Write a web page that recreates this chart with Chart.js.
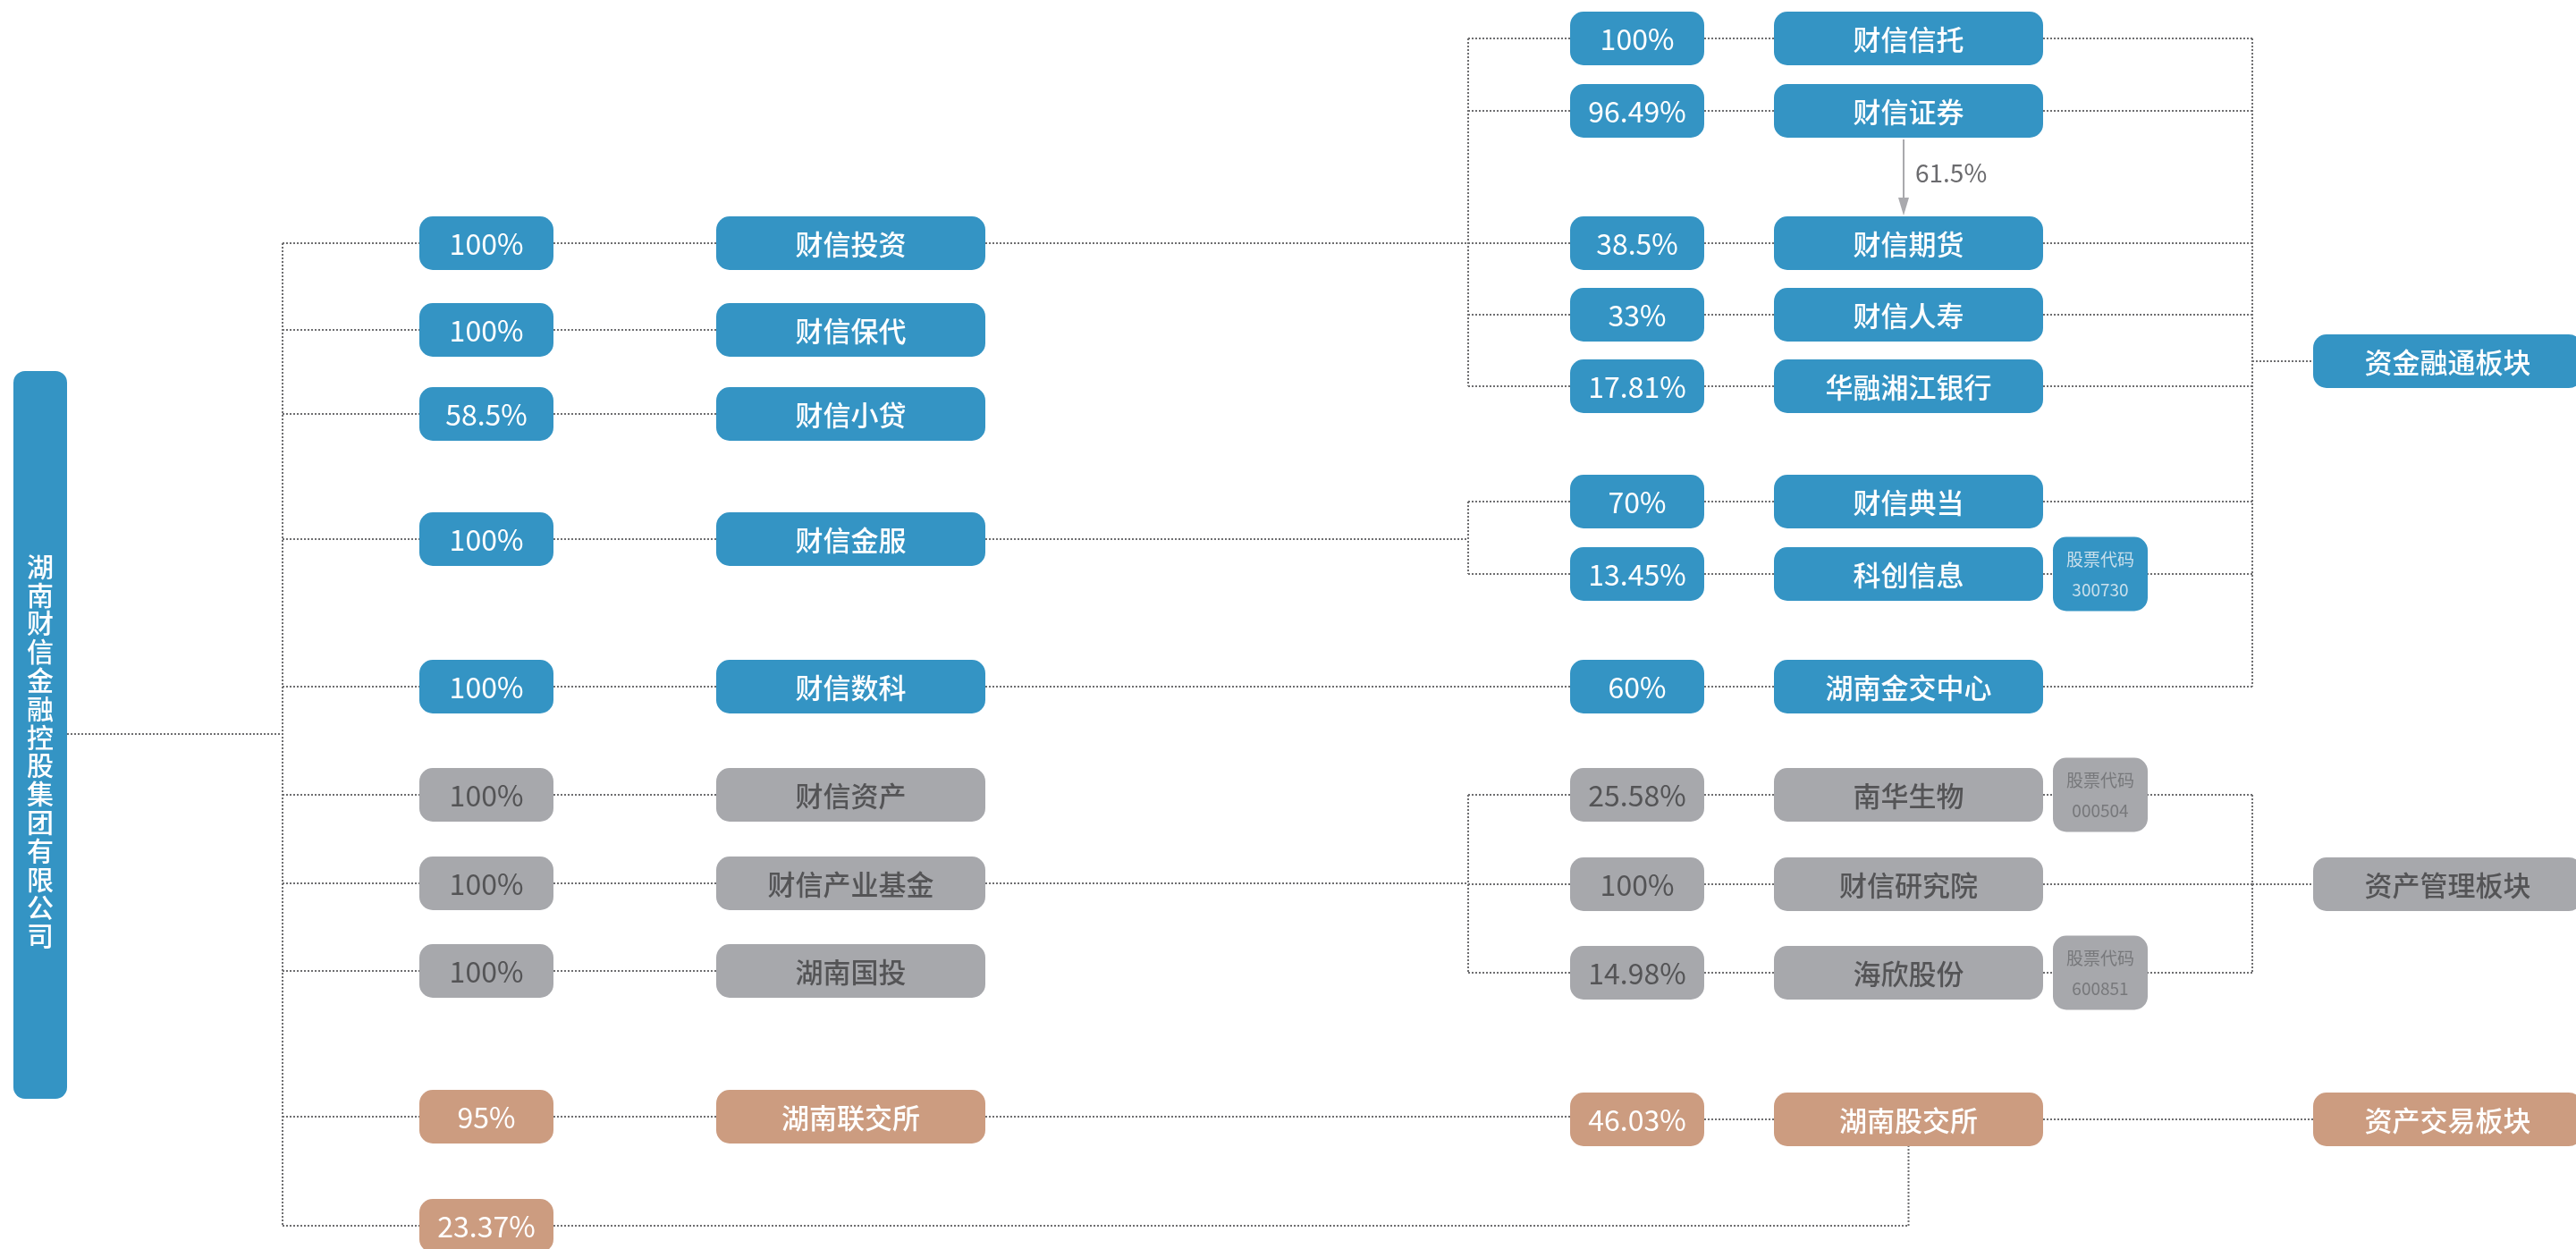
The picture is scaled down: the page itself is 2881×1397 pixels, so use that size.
<!DOCTYPE html>
<html>
<head>
<meta charset="utf-8">
<script src="https://cdn.jsdelivr.net/npm/chart.js@4/dist/chart.umd.min.js"></script>
<style>
html,body{margin:0;padding:0;background:#fff;overflow:hidden;}
#wrap{width:2881px;height:1397px;position:relative;}
</style>
</head>
<body>
<div id="wrap"><canvas id="c"></canvas></div>
<script>
// ---------------- DATA ----------------
const rootName = '湖南财信金融控股集团有限公司';
const level1Names  = ['财信投资','财信保代','财信小贷','财信金服','财信数科','财信资产','财信产业基金','湖南国投','湖南联交所'];
const level1Shares = ['100%','100%','58.5%','100%','100%','100%','100%','100%','95%'];
const level1Sector = [0,0,0,0,0,1,1,1,2];
const level2Names  = ['财信信托','财信证券','财信期货','财信人寿','华融湘江银行','财信典当','科创信息','湖南金交中心','南华生物','财信研究院','海欣股份','湖南股交所'];
const level2Shares = ['100%','96.49%','38.5%','33%','17.81%','70%','13.45%','60%','25.58%','100%','14.98%','46.03%'];
const level2Parent = [0,0,0,0,0,3,3,4,6,6,6,8];
const level2Sector = [0,0,0,0,0,0,0,0,1,1,1,2];
const level2Codes  = ['','','','','','','300730','','000504','','600851',''];
const codeLabel = '股票代码';
const sectorNames = ['资金融通板块','资产管理板块','资产交易板块'];
const crossHolding = {from:1, to:2, share:'61.5%'};      // 财信证券 -> 财信期货
const directHolding = {to:11, share:'23.37%'};          // 集团 -> 湖南股交所

// ---------------- LAYOUT (positions in reference units) ----------------
const layout = {
  rootX:45, rootW:60, rootTop:415, rootBottom:1229, rootLineY:821, rootTextY:840,
  trunkX:316,
  l1PctX:544, l1NameX:951.5, l1Y:[272,369,463,603,768,889,988,1086,1249], directY:1371,
  lBrX:1642, rBrX:2519,
  l2PctX:1831, l2NameX:2134.5, l2Y:[43,124,272,352,432,561,642,768,889,989,1088,1252],
  stockX:2349, stockW:106, stockH:83,
  sectorX:2737.5, sectorY:[404,989,1252],
  pctW:150, nameW:301, boxH:60, radius:15,
  arrowX:2129, arrowTop:156, arrowBottom:241
};
const fills = ['#3494c4','#a7a8ac','#cc9c80'];
const textColors = ['#ffffff','#545456','#ffffff'];
const codeColors = ['#c9dfeb','#77787b'];
const FONT = '"Noto Sans CJK SC","Noto Sans",sans-serif';

// points for every node, so the scales define positions
const pts = [];
layout.l1Y.forEach(y=>{pts.push({x:layout.l1PctX,y});pts.push({x:layout.l1NameX,y});});
layout.l2Y.forEach(y=>{pts.push({x:layout.l2PctX,y});pts.push({x:layout.l2NameX,y});});

const orgPlugin = {
  id:'org',
  afterDraw(chart){
    const ctx = chart.ctx, sx = chart.scales.x, sy = chart.scales.y;
    const X = v => sx.getPixelForValue(v), Y = v => sy.getPixelForValue(v);
    const L = layout;
    ctx.save();
    // dotted connectors
    ctx.strokeStyle = '#6e6e70';
    ctx.lineWidth = 2;
    ctx.setLineDash([2,2]);
    const line = (x1,y1,x2,y2)=>{ctx.beginPath();ctx.moveTo(X(x1),Y(y1));ctx.lineTo(X(x2),Y(y2));ctx.stroke();};
    // root
    line(L.rootX+L.rootW/2, L.rootLineY, L.trunkX, L.rootLineY);
    line(L.trunkX, L.l1Y[0], L.trunkX, L.directY);
    L.l1Y.forEach(y=>{
      line(L.trunkX, y, L.l1PctX-L.pctW/2, y);
      line(L.l1PctX+L.pctW/2, y, L.l1NameX-L.nameW/2, y);
    });
    line(L.trunkX, L.directY, L.l1PctX-L.pctW/2, L.directY);
    // level1 -> level2
    level1Names.forEach((n,i)=>{
      const kids = level2Parent.map((p,k)=>p===i?k:-1).filter(k=>k>=0);
      if(!kids.length) return;
      const y = L.l1Y[i];
      if(kids.length===1){
        line(L.l1NameX+L.nameW/2, y, L.l2PctX-L.pctW/2, y);
      } else {
        line(L.l1NameX+L.nameW/2, y, L.lBrX, y);
        const ys = kids.map(k=>L.l2Y[k]);
        line(L.lBrX, Math.min(...ys), L.lBrX, Math.max(...ys));
        kids.forEach(k=>line(L.lBrX, L.l2Y[k], L.l2PctX-L.pctW/2, L.l2Y[k]));
      }
    });
    level2Names.forEach((n,k)=>line(L.l2PctX+L.pctW/2, L.l2Y[k], L.l2NameX-L.nameW/2, L.l2Y[k]));
    // level2 -> sectors
    sectorNames.forEach((s,j)=>{
      const kids = level2Sector.map((p,k)=>p===j?k:-1).filter(k=>k>=0);
      const sy0 = L.sectorY[j];
      if(kids.length===1){
        line(L.l2NameX+L.nameW/2, sy0, L.sectorX-L.nameW/2, sy0);
      } else {
        const ys = kids.map(k=>L.l2Y[k]);
        kids.forEach(k=>line(L.l2NameX+L.nameW/2, L.l2Y[k], L.rBrX, L.l2Y[k]));
        line(L.rBrX, Math.min(...ys), L.rBrX, Math.max(...ys));
        line(L.rBrX, sy0, L.sectorX-L.nameW/2, sy0);
      }
    });
    // direct holding
    const dx = L.l2NameX;
    line(L.l1PctX+L.pctW/2, L.directY, dx, L.directY);
    line(dx, L.directY, dx, L.l2Y[directHolding.to]+L.boxH/2);
    ctx.setLineDash([]);

    // boxes
    const rrect = (cx,cy,w,h,r)=>{
      const x0=X(cx-w/2), x1=X(cx+w/2), y0=Y(cy-h/2), y1=Y(cy+h/2);
      ctx.beginPath();
      ctx.moveTo(x0+r,y0);ctx.lineTo(x1-r,y0);ctx.arcTo(x1,y0,x1,y0+r,r);
      ctx.lineTo(x1,y1-r);ctx.arcTo(x1,y1,x1-r,y1,r);
      ctx.lineTo(x0+r,y1);ctx.arcTo(x0,y1,x0,y1-r,r);
      ctx.lineTo(x0,y0+r);ctx.arcTo(x0,y0,x0+r,y0,r);
      ctx.closePath();
    };
    const box = (cx,cy,w,h,sec,text,size,weight)=>{
      rrect(cx,cy,w,h,L.radius);
      ctx.fillStyle = fills[sec]; ctx.fill();
      ctx.fillStyle = textColors[sec];
      ctx.font = (weight||'400')+' '+size+'px '+FONT;
      ctx.textAlign='center'; ctx.textBaseline='middle';
      ctx.fillText(text, X(cx), Y(cy)+1);
    };
    // root
    const rc = (L.rootTop+L.rootBottom)/2;
    rrect(L.rootX, rc, L.rootW, L.rootBottom-L.rootTop, 13);
    ctx.fillStyle = fills[0]; ctx.fill();
    ctx.fillStyle = '#fff'; ctx.font = '500 30px '+FONT;
    ctx.textAlign='center'; ctx.textBaseline='middle';
    const chars = Array.from(rootName), pitch = 31.8;
    chars.forEach((c,i)=>ctx.fillText(c, X(L.rootX), Y(L.rootTextY + (i-(chars.length-1)/2)*pitch)));
    // level1
    level1Names.forEach((n,i)=>{
      const sec = level1Sector[i], y = L.l1Y[i];
      box(L.l1PctX, y, L.pctW, L.boxH, sec, level1Shares[i], 32, '400');
      box(L.l1NameX, y, L.nameW, L.boxH, sec, n, 31, '500');
    });
    box(L.l1PctX, L.directY, L.pctW, L.boxH, 2, directHolding.share, 32, '400');
    // level2
    level2Names.forEach((n,k)=>{
      const sec = level2Sector[k], y = L.l2Y[k];
      box(L.l2PctX, y, L.pctW, L.boxH, sec, level2Shares[k], 32, '400');
      box(L.l2NameX, y, L.nameW, L.boxH, sec, n, 31, '500');
      if(level2Codes[k]){
        rrect(L.stockX, y, L.stockW, L.stockH, 15);
        ctx.fillStyle = fills[sec]; ctx.fill();
        ctx.fillStyle = codeColors[sec]; ctx.font = '400 19px '+FONT;
        ctx.textAlign='center'; ctx.textBaseline='middle';
        ctx.fillText(codeLabel, X(L.stockX), Y(y-16));
        ctx.fillText(level2Codes[k], X(L.stockX), Y(y+18));
      }
    });
    // sectors
    sectorNames.forEach((s,j)=>box(L.sectorX, L.sectorY[j], L.nameW, L.boxH, j, s, 31, '500'));
    // cross holding arrow
    ctx.strokeStyle='#a9a9ad'; ctx.lineWidth=2;
    ctx.beginPath(); ctx.moveTo(X(L.arrowX),Y(L.arrowTop)); ctx.lineTo(X(L.arrowX),Y(L.arrowBottom-14)); ctx.stroke();
    ctx.fillStyle='#a9a9ad';
    ctx.beginPath(); ctx.moveTo(X(L.arrowX-6),Y(L.arrowBottom-20)); ctx.lineTo(X(L.arrowX+6),Y(L.arrowBottom-20)); ctx.lineTo(X(L.arrowX),Y(L.arrowBottom)); ctx.closePath(); ctx.fill();
    ctx.fillStyle='#6b6b6e'; ctx.font='400 28px '+FONT; ctx.textAlign='left'; ctx.textBaseline='middle';
    ctx.fillText(crossHolding.share, X(L.arrowX+13), Y(193));
    ctx.restore();
  }
};

new Chart(document.getElementById('c'), {
  type:'scatter',
  data:{datasets:[{data:pts, pointRadius:0, pointHoverRadius:0, showLine:false}]},
  options:{
    responsive:true, maintainAspectRatio:false, animation:false,
    layout:{padding:0},
    plugins:{legend:{display:false}, tooltip:{enabled:false}},
    events:[],
    scales:{
      x:{type:'linear', min:0, max:2881, display:false},
      y:{type:'linear', min:0, max:1397, reverse:true, display:false}
    }
  },
  plugins:[orgPlugin]
});
</script>
</body>
</html>
